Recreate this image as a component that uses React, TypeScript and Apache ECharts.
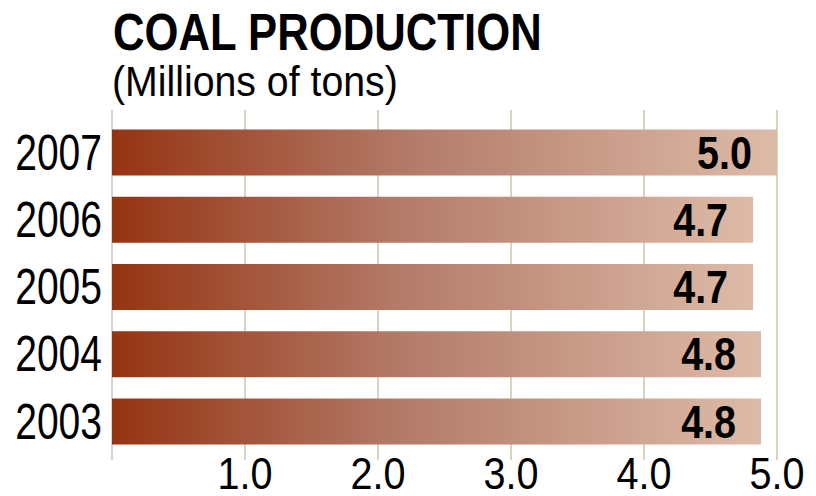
import React, { useEffect, useRef } from "react";
import * as echarts from "echarts";

const years = ["2007", "2006", "2005", "2004", "2003"];
// bar lengths as drawn in the picture
const barValues = [5.0, 4.82, 4.82, 4.88, 4.88];
// printed value labels
const valueLabels = ["5.0", "4.7", "4.7", "4.8", "4.8"];
const xTicks = [1, 2, 3, 4, 5];
const titleText = "COAL PRODUCTION";
const subtitleText = "(Millions of tons)";

const FONT = "'Liberation Sans', Arial, sans-serif";

export default function App() {
  const ref = useRef<HTMLDivElement>(null);
  useEffect(() => {
    if (!ref.current) return;
    const chart = echarts.init(ref.current, undefined, { renderer: "svg" });
    const gradient = new echarts.graphic.LinearGradient(0, 0, 1, 0, [
      { offset: 0, color: "#953412" },
      { offset: 0.45, color: "#b47b69" },
      { offset: 1, color: "#ddbba8" },
    ]);
    chart.setOption({
      animation: false,
      backgroundColor: "#ffffff",
      grid: [
        { left: 112, right: 39, top: 110, bottom: 36 },
        { left: 112, right: 39, top: 119, bottom: 41 },
      ],
      xAxis: [
        {
          gridIndex: 0,
          type: "value",
          min: 0,
          max: 5,
          interval: 1,
          axisLine: { show: false },
          axisTick: { show: false },
          splitLine: { show: true, lineStyle: { color: "#d8d4c2", width: 2 } },
          axisLabel: { show: false },
        },
        {
          gridIndex: 1,
          type: "value",
          min: 0,
          max: 5,
          interval: 1,
          show: false,
          splitLine: { show: false },
        },
      ],
      yAxis: [
        { gridIndex: 0, type: "category", data: years, show: false },
        {
          gridIndex: 1,
          type: "category",
          data: years,
          inverse: true,
          axisLine: { show: false },
          axisTick: { show: false },
          axisLabel: { show: false },
        },
      ],
      series: [
        {
          type: "bar",
          xAxisIndex: 1,
          yAxisIndex: 1,
          data: barValues,
          barWidth: 46,
          itemStyle: { color: gradient },
          label: { show: false },
        },
      ],
    });

    const graphics: any[] = [];
    const x0 = chart.convertToPixel({ xAxisIndex: 1 }, 0) as number;
    graphics.push({
      type: "text",
      x: 113,
      y: 32,
      z: 100,
      scaleX: 0.84,
      style: {
        text: titleText,
        fontFamily: FONT,
        fontSize: 52,
        fontWeight: "bold",
        fill: "#000",
        align: "left",
        verticalAlign: "middle",
      },
    });
    graphics.push({
      type: "text",
      x: 112,
      y: 82,
      z: 100,
      scaleX: 0.935,
      style: {
        text: subtitleText,
        fontFamily: FONT,
        fontSize: 42,
        fill: "#000",
        align: "left",
        verticalAlign: "middle",
      },
    });
    years.forEach((yr, i) => {
      const yc = chart.convertToPixel({ yAxisIndex: 1 }, yr) as number;
      graphics.push({
        type: "text",
        x: x0 - 10,
        y: yc,
        z: 100,
        scaleX: 0.78,
        style: {
          text: yr,
          fontFamily: FONT,
          fontSize: 50,
          fill: "#000",
          align: "right",
          verticalAlign: "middle",
        },
      });
      const xe = chart.convertToPixel({ xAxisIndex: 1 }, barValues[i]) as number;
      graphics.push({
        type: "text",
        x: xe - 25,
        y: yc,
        z: 100,
        scaleX: 0.84,
        style: {
          text: valueLabels[i],
          fontFamily: FONT,
          fontSize: 47,
          fontWeight: "bold",
          fill: "#000",
          align: "right",
          verticalAlign: "middle",
        },
      });
    });
    xTicks.forEach((t) => {
      const xt = chart.convertToPixel({ xAxisIndex: 0 }, t) as number;
      graphics.push({
        type: "text",
        x: xt,
        y: 474,
        z: 100,
        scaleX: 0.88,
        style: {
          text: t.toFixed(1),
          fontFamily: FONT,
          fontSize: 45,
          lineHeight: 40,
          fill: "#000",
          align: "center",
          verticalAlign: "middle",
        },
      });
    });
    chart.setOption({ graphic: graphics });
    return () => chart.dispose();
  }, []);
  return (
    <div
      ref={ref}
      style={{ position: "fixed", left: 0, top: 0, width: 816, height: 496 }}
    />
  );
}
